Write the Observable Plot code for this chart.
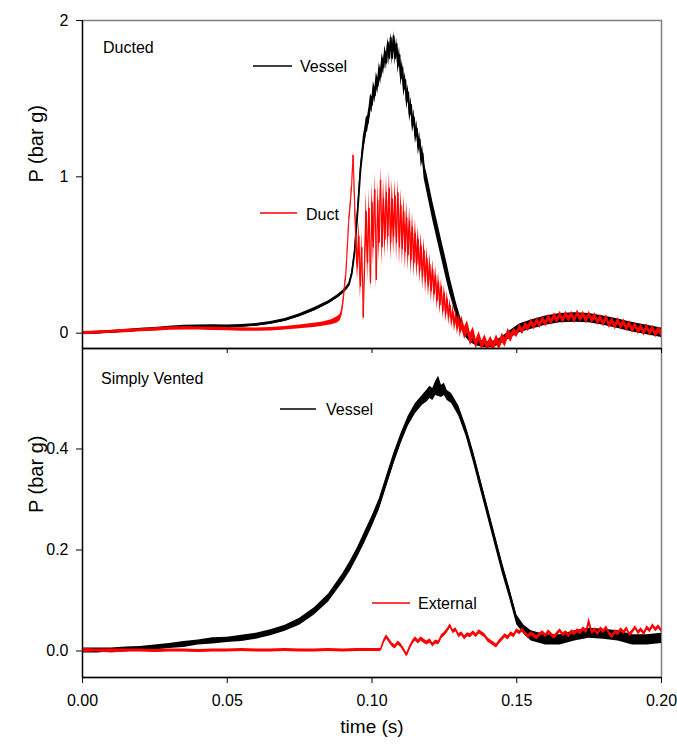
<!DOCTYPE html>
<html><head><meta charset="utf-8">
<script src="https://cdn.jsdelivr.net/npm/d3@7"></script>
<script src="https://cdn.jsdelivr.net/npm/@observablehq/plot@0.6"></script>
<style>
html,body{margin:0;padding:0;background:#fff}
#chart{position:relative;width:677px;height:744px;background:#fff}
#top,#bottom{position:absolute;left:0}
#top{top:0;z-index:2}
#bottom{top:348px;z-index:1}
</style>
</head><body>
<div id="chart"><div id="top"></div><div id="bottom"></div></div>
<script>
// ---------- data ----------
const xDomain = [0, 0.2];
const xTicks = [0, 0.05, 0.10, 0.15, 0.20];
const topDomain = [-0.098, 2];
const topTicks = [0, 1, 2];
const bottomDomain = [-0.0525, 0.599];
const bottomTicks = [0.0, 0.2, 0.4];
const panelTitles = ["Ducted", "Simply Vented"];
const seriesNames = ["Vessel", "Duct", "Vessel", "External"];
const yLabel = "P (bar g)";
const xLabel = "time (s)";

// rows: [time (s), pressure (bar g), half-spread of the noise band]
const vesselTop = [
[0,0,0.008],[0.005,0.004,0.009],[0.01,0.009,0.008],[0.015,0.015,0.009],[0.02,0.022,0.009],[0.025,0.029,0.008],
[0.03,0.036,0.009],[0.035,0.041,0.010],[0.04,0.044,0.008],[0.045,0.045,0.009],[0.05,0.045,0.008],[0.055,0.047,0.009],
[0.06,0.054,0.008],[0.065,0.066,0.009],[0.07,0.085,0.009],[0.075,0.115,0.010],[0.08,0.152,0.010],[0.085,0.198,0.010],
[0.088,0.235,0.010],[0.09,0.265,0.010],[0.091,0.285,0.010],[0.092,0.31,0.010],[0.093,0.38,0.012],[0.094,0.52,0.015],
[0.095,0.77,0.02],[0.096,1.04,0.03],[0.097,1.21,0.05],[0.0975,1.26,0.05],[0.098,1.33,0.05],[0.0985,1.34,0.05],
[0.099,1.40,0.05],[0.0995,1.48,0.05],[0.1,1.46,0.05],[0.1005,1.56,0.05],[0.101,1.52,0.05],[0.1015,1.62,0.05],
[0.102,1.58,0.05],[0.1025,1.68,0.05],[0.103,1.64,0.05],[0.1035,1.74,0.05],[0.104,1.70,0.05],[0.1045,1.80,0.04],
[0.105,1.73,0.05],[0.1055,1.86,0.03],[0.106,1.76,0.05],[0.1065,1.89,0.03],[0.107,1.76,0.05],[0.1075,1.90,0.03],
[0.108,1.76,0.05],[0.1085,1.85,0.04],[0.109,1.71,0.05],[0.1095,1.78,0.05],[0.11,1.63,0.05],[0.1105,1.70,0.05],
[0.111,1.56,0.05],[0.1115,1.62,0.05],[0.112,1.48,0.05],[0.1125,1.54,0.05],[0.113,1.40,0.05],[0.1135,1.46,0.05],
[0.114,1.33,0.05],[0.1145,1.38,0.05],[0.115,1.26,0.05],[0.1155,1.31,0.05],[0.116,1.19,0.05],[0.1165,1.24,0.05],
[0.117,1.11,0.05],[0.1175,1.15,0.05],[0.118,1.04,0.05],[0.119,0.96,0.06],[0.12,0.87,0.06],[0.121,0.78,0.06],
[0.122,0.70,0.06],[0.123,0.62,0.06],[0.124,0.54,0.06],[0.125,0.46,0.06],[0.126,0.38,0.06],[0.127,0.30,0.055],
[0.128,0.23,0.05],[0.129,0.16,0.045],[0.13,0.10,0.04],[0.131,0.05,0.03],[0.132,0.01,0.025],[0.133,-0.02,0.02],
[0.134,-0.04,0.02],[0.136,-0.06,0.02],[0.138,-0.07,0.02],[0.14,-0.075,0.02],[0.142,-0.07,0.02],[0.144,-0.055,0.02],
[0.146,-0.03,0.022],[0.148,-0.005,0.025],[0.151,0.03,0.028],[0.155,0.055,0.03],[0.16,0.08,0.03],[0.165,0.096,0.03],
[0.17,0.10,0.03],[0.175,0.096,0.03],[0.18,0.08,0.03],[0.185,0.06,0.03],[0.19,0.038,0.03],[0.195,0.02,0.03],[0.2,0.003,0.03]
];

const ductTop = [
[0,0,0.01],[0.005,0.004,0.01],[0.01,0.009,0.01],[0.015,0.014,0.011],[0.02,0.019,0.01],[0.025,0.024,0.011],
[0.03,0.029,0.01],[0.035,0.031,0.011],[0.04,0.03,0.01],[0.045,0.028,0.011],[0.05,0.026,0.01],[0.055,0.024,0.011],
[0.06,0.023,0.01],[0.065,0.025,0.011],[0.07,0.031,0.011],[0.075,0.04,0.012],[0.08,0.05,0.013],[0.083,0.058,0.014],
[0.086,0.07,0.016],[0.088,0.085,0.02],[0.089,0.10,0.02],[0.0895,0.13,0.02],[0.09,0.20,0.02],[0.0905,0.29,0.02],
[0.091,0.38,0.02],[0.0915,0.55,0.02],[0.092,0.72,0.02],[0.0925,0.82,0.02],[0.093,0.95,0.02],[0.0935,1.14,0.02],
[0.094,0.85,0.05],[0.0945,0.60,0.08],[0.095,0.42,0.08],[0.0955,0.62,0.10],[0.096,0.30,0.08],[0.0965,0.55,0.10],
[0.097,0.10,0.03],[0.0975,0.45,0.10],[0.098,0.78,0.12],[0.0985,0.45,0.12],[0.099,0.80,0.12],[0.0995,0.32,0.05],
[0.1,0.84,0.12],[0.1005,0.55,0.12],[0.101,0.92,0.10],[0.1015,0.34,0.06],[0.102,0.85,0.12],[0.1025,0.58,0.12],
[0.103,0.98,0.08],[0.1035,0.55,0.12],[0.104,0.86,0.12],[0.1045,0.60,0.12],[0.105,0.90,0.10],[0.1055,0.62,0.12],
[0.106,0.93,0.10],[0.1065,0.58,0.12],[0.107,0.86,0.12],[0.1075,0.62,0.12],[0.108,0.88,0.10],[0.1085,0.58,0.12],
[0.109,0.90,0.08],[0.1095,0.55,0.12],[0.11,0.82,0.10],[0.1105,0.54,0.11],[0.111,0.78,0.10],[0.1115,0.52,0.11],
[0.112,0.74,0.10],[0.1125,0.50,0.10],[0.113,0.72,0.09],[0.1135,0.47,0.10],[0.114,0.68,0.09],[0.1145,0.45,0.09],
[0.115,0.64,0.09],[0.1155,0.44,0.09],[0.116,0.60,0.08],[0.1165,0.40,0.08],[0.117,0.56,0.08],[0.1175,0.36,0.08],
[0.118,0.53,0.08],[0.1185,0.33,0.08],[0.119,0.48,0.07],[0.1195,0.30,0.07],[0.12,0.44,0.07],[0.1205,0.27,0.07],
[0.121,0.41,0.06],[0.1215,0.25,0.06],[0.122,0.37,0.06],[0.1225,0.21,0.06],[0.123,0.33,0.06],[0.1235,0.18,0.06],
[0.124,0.30,0.05],[0.1245,0.14,0.05],[0.125,0.26,0.05],[0.1255,0.12,0.05],[0.126,0.22,0.05],[0.1265,0.10,0.05],
[0.127,0.18,0.04],[0.1275,0.07,0.04],[0.128,0.14,0.04],[0.1285,0.05,0.04],[0.129,0.11,0.04],[0.1295,0.03,0.04],
[0.13,0.09,0.04],[0.1305,0.01,0.04],[0.131,0.07,0.04],[0.132,0.0,0.04],[0.133,0.04,0.04],[0.134,-0.04,0.04],
[0.135,0.0,0.04],[0.136,-0.07,0.03],[0.137,-0.02,0.03],[0.138,-0.08,0.03],[0.139,-0.04,0.03],[0.14,-0.09,0.03],
[0.141,-0.05,0.03],[0.142,-0.09,0.03],[0.143,-0.04,0.03],[0.144,-0.08,0.03],[0.145,-0.03,0.03],[0.146,-0.06,0.03],
[0.147,0.0,0.03],[0.148,-0.03,0.03],[0.149,0.01,0.02],[0.15,-0.01,0.02],[0.151,0.04,0.02],[0.152,0.01,0.02],
[0.153,0.05,0.02],[0.154,0.03,0.02],[0.155,0.07,0.02],[0.156,0.04,0.02],[0.157,0.08,0.02],[0.158,0.05,0.02],
[0.159,0.09,0.02],[0.16,0.06,0.02],[0.161,0.10,0.02],[0.162,0.07,0.02],[0.163,0.11,0.02],[0.164,0.08,0.02],
[0.165,0.12,0.02],[0.166,0.08,0.02],[0.167,0.12,0.02],[0.168,0.09,0.02],[0.169,0.12,0.02],[0.17,0.08,0.02],
[0.171,0.13,0.02],[0.172,0.09,0.02],[0.173,0.12,0.02],[0.174,0.08,0.02],[0.175,0.12,0.02],[0.176,0.08,0.02],
[0.177,0.11,0.02],[0.178,0.07,0.02],[0.179,0.10,0.02],[0.18,0.06,0.02],[0.181,0.10,0.02],[0.182,0.05,0.02],
[0.183,0.08,0.02],[0.184,0.04,0.02],[0.185,0.08,0.02],[0.186,0.04,0.02],[0.187,0.07,0.02],[0.188,0.03,0.02],
[0.189,0.06,0.02],[0.19,0.02,0.02],[0.191,0.05,0.02],[0.192,0.01,0.02],[0.193,0.04,0.02],[0.194,0.0,0.02],
[0.195,0.04,0.02],[0.196,0.0,0.02],[0.197,0.03,0.02],[0.198,-0.01,0.02],[0.199,0.02,0.02],[0.2,0.0,0.02]
];

const vesselBottom = [
[0,0.001,0.005],[0.005,0.001,0.005],[0.01,0.002,0.004],[0.015,0.003,0.005],[0.02,0.005,0.004],[0.025,0.007,0.005],
[0.03,0.01,0.005],[0.035,0.013,0.006],[0.04,0.017,0.005],[0.045,0.02,0.006],[0.05,0.022,0.005],[0.055,0.025,0.006],
[0.06,0.029,0.006],[0.065,0.036,0.006],[0.07,0.045,0.006],[0.075,0.058,0.007],[0.08,0.078,0.007],[0.085,0.105,0.008],
[0.09,0.145,0.009],[0.0925,0.168,0.01],[0.095,0.195,0.01],[0.0975,0.225,0.011],[0.1,0.256,0.011],[0.1025,0.29,0.011],
[0.105,0.335,0.011],[0.1075,0.38,0.011],[0.11,0.42,0.01],[0.1125,0.455,0.01],[0.115,0.48,0.01],[0.1175,0.497,0.01],
[0.119,0.505,0.012],[0.12,0.512,0.012],[0.121,0.508,0.012],[0.122,0.52,0.014],[0.123,0.524,0.02],[0.124,0.514,0.012],
[0.125,0.518,0.012],[0.126,0.506,0.01],[0.1275,0.50,0.01],[0.13,0.475,0.01],[0.1325,0.435,0.01],[0.135,0.385,0.011],
[0.1375,0.33,0.011],[0.14,0.275,0.011],[0.1425,0.22,0.011],[0.145,0.165,0.011],[0.1475,0.115,0.01],[0.15,0.062,0.01],
[0.1525,0.042,0.009],[0.155,0.03,0.01],[0.16,0.022,0.01],[0.165,0.022,0.01],[0.17,0.03,0.01],[0.175,0.035,0.01],
[0.18,0.033,0.01],[0.185,0.03,0.01],[0.19,0.022,0.01],[0.195,0.022,0.01],[0.2,0.025,0.01]
];

const externalBottom = [
[0,0.001,0.004],[0.005,0.001,0.003],[0.01,0,0.004],[0.015,0.001,0.003],[0.02,0.001,0.003],[0.025,0,0.003],
[0.03,0.001,0.003],[0.035,0.001,0.003],[0.04,0,0.003],[0.045,0.001,0.003],[0.05,0.001,0.003],[0.055,0.002,0.003],
[0.06,0.001,0.003],[0.065,0.001,0.003],[0.07,0.002,0.003],[0.075,0.001,0.003],[0.08,0.001,0.003],[0.085,0.002,0.003],
[0.09,0.001,0.003],[0.095,0.002,0.003],[0.1,0.002,0.003],[0.103,0.002,0.003],
[0.104,0.018,0.004],[0.105,0.028,0.004],[0.106,0.02,0.004],[0.107,0.012,0.004],[0.108,0.008,0.004],[0.109,0.016,0.004],
[0.11,0.011,0.004],[0.111,0.002,0.004],[0.112,-0.008,0.004],[0.113,0.006,0.004],[0.114,0.017,0.004],[0.115,0.024,0.004],
[0.116,0.018,0.004],[0.117,0.024,0.004],[0.118,0.019,0.004],[0.119,0.016,0.004],[0.12,0.02,0.004],[0.121,0.012,0.004],
[0.122,0.018,0.004],[0.123,0.016,0.004],[0.124,0.028,0.004],[0.125,0.033,0.004],[0.126,0.04,0.004],[0.127,0.05,0.004],
[0.128,0.038,0.004],[0.129,0.042,0.004],[0.13,0.03,0.004],[0.131,0.034,0.004],[0.132,0.026,0.004],[0.133,0.032,0.004],
[0.134,0.03,0.004],[0.135,0.036,0.004],[0.136,0.03,0.004],[0.137,0.038,0.004],[0.138,0.034,0.004],[0.139,0.03,0.004],
[0.14,0.022,0.004],[0.141,0.018,0.004],[0.142,0.014,0.004],[0.143,0.01,0.004],[0.144,0.018,0.004],[0.145,0.024,0.004],
[0.146,0.03,0.004],[0.147,0.026,0.004],[0.148,0.034,0.004],[0.149,0.03,0.004],[0.15,0.04,0.004],[0.151,0.036,0.004],
[0.152,0.042,0.004],[0.153,0.034,0.004],[0.154,0.028,0.004],[0.155,0.034,0.004],[0.156,0.03,0.004],[0.157,0.026,0.004],
[0.158,0.032,0.004],[0.159,0.036,0.004],[0.16,0.03,0.004],[0.161,0.038,0.004],[0.162,0.032,0.004],[0.163,0.027,0.004],
[0.164,0.034,0.004],[0.165,0.04,0.004],[0.166,0.032,0.004],[0.167,0.036,0.004],[0.168,0.03,0.004],[0.169,0.038,0.004],
[0.17,0.034,0.004],[0.171,0.04,0.004],[0.172,0.036,0.004],[0.173,0.044,0.004],[0.174,0.038,0.004],[0.175,0.058,0.008],
[0.176,0.036,0.004],[0.177,0.042,0.004],[0.178,0.034,0.004],[0.179,0.044,0.004],[0.18,0.038,0.004],[0.181,0.046,0.004],
[0.182,0.034,0.004],[0.183,0.028,0.004],[0.184,0.038,0.004],[0.185,0.034,0.004],[0.186,0.042,0.004],[0.187,0.036,0.004],
[0.188,0.044,0.004],[0.189,0.032,0.004],[0.19,0.038,0.004],[0.191,0.046,0.004],[0.192,0.036,0.004],[0.193,0.042,0.004],
[0.194,0.034,0.004],[0.195,0.046,0.004],[0.196,0.04,0.004],[0.197,0.05,0.004],[0.198,0.042,0.004],[0.199,0.048,0.004],[0.2,0.04,0.004]
];

// ---------- style / layout ----------
const FONT = "'Liberation Sans', Arial, Helvetica, sans-serif";
const BLACK = "#000000", RED = "#ff0000", GRAY = "#7f7f7f";
const W = 677, ML = 82, MR = 16;

function series(rows, color, w) {
  return [
    Plot.areaY(rows, {x: d => d[0], y1: d => d[1] - d[2], y2: d => d[1] + d[2], fill: color, curve: "linear", clip: true}),
    Plot.line(rows, {x: d => d[0], y: d => d[1], stroke: color, strokeWidth: w, curve: "linear", clip: true})
  ];
}

function annotations(items) {
  return () => {
    const g = d3.create("svg:g").attr("font-family", FONT).attr("font-size", 16)
      .attr("fill", "black").attr("text-anchor", "start");
    for (const it of items) {
      if (it.color) g.append("line").attr("x1", it.lx1).attr("x2", it.lx2).attr("y1", it.ly).attr("y2", it.ly)
        .attr("stroke", it.color).attr("stroke-width", 1.3);
      g.append("text").attr("x", it.tx).attr("y", it.ty).attr("text-anchor", "start").text(it.label);
    }
    return g.node();
  };
}

const common = {
  width: W, marginLeft: ML, marginRight: MR,
  style: {background: "transparent", overflow: "visible", fontFamily: FONT, fontSize: "16px", color: "black"},
  x: {domain: xDomain}
};

const topPlot = Plot.plot({
  ...common,
  height: 354, marginTop: 20, marginBottom: 6,
  y: {domain: topDomain},
  marks: [
    Plot.frame({stroke: GRAY, strokeWidth: 1.5}),
    ...series(vesselTop, BLACK, 1.8),
    ...series(ductTop, RED, 1),
    Plot.ruleX([xDomain[0]], {stroke: BLACK, strokeWidth: 1.3}),
    Plot.ruleY([topDomain[0]], {stroke: BLACK, strokeWidth: 1.3}),
    Plot.axisY({ticks: topTicks, tickSize: 6, tickPadding: 8, tickFormat: d => String(d), label: null, fontSize: 16}),
    Plot.axisX({ticks: xTicks, tickSize: 5, tickFormat: () => "", label: null}),
    Plot.text([yLabel], {frameAnchor: "left", rotate: -90, dx: -46, dy: -2, fontSize: 20, fontFamily: FONT, fill: "black"}),
    annotations([
      {label: panelTitles[0], tx: 103, ty: 53},
      {label: seriesNames[0], tx: 300, ty: 72, color: BLACK, lx1: 253, lx2: 292, ly: 66},
      {label: seriesNames[1], tx: 306, ty: 220, color: RED, lx1: 260, lx2: 297, ly: 213}
    ])
  ]
});

const bottomPlot = Plot.plot({
  ...common,
  height: 396, marginTop: 0, marginBottom: 67,
  y: {domain: bottomDomain},
  marks: [
    Plot.frame({stroke: GRAY, strokeWidth: 1.5}),
    ...series(vesselBottom, BLACK, 1.8),
    ...series(externalBottom, RED, 1),
    Plot.ruleX([xDomain[0]], {stroke: BLACK, strokeWidth: 1.3}),
    Plot.ruleY([bottomDomain[0]], {stroke: BLACK, strokeWidth: 1.3}),
    Plot.axisY({ticks: bottomTicks, tickSize: 6, tickPadding: 8, tickFormat: d3.format(".1f"), label: null, fontSize: 16}),
    Plot.axisX({ticks: xTicks, tickSize: 6, tickPadding: 11, tickFormat: d3.format(".2f"), label: null, fontSize: 16}),
    Plot.text([yLabel], {frameAnchor: "left", rotate: -90, dx: -46, fontSize: 20, fontFamily: FONT, fill: "black"}),
    Plot.text([xLabel], {frameAnchor: "bottom", dy: 55, fontSize: 19, fontFamily: FONT, fill: "black"}),
    annotations([
      {label: panelTitles[1], tx: 101, ty: 36},
      {label: seriesNames[2], tx: 326, ty: 67, color: BLACK, lx1: 280, lx2: 316, ly: 61},
      {label: seriesNames[3], tx: 418, ty: 261, color: RED, lx1: 372, lx2: 410, ly: 255}
    ])
  ]
});

document.getElementById("top").append(topPlot);
document.getElementById("bottom").append(bottomPlot);
</script>
</body></html>
